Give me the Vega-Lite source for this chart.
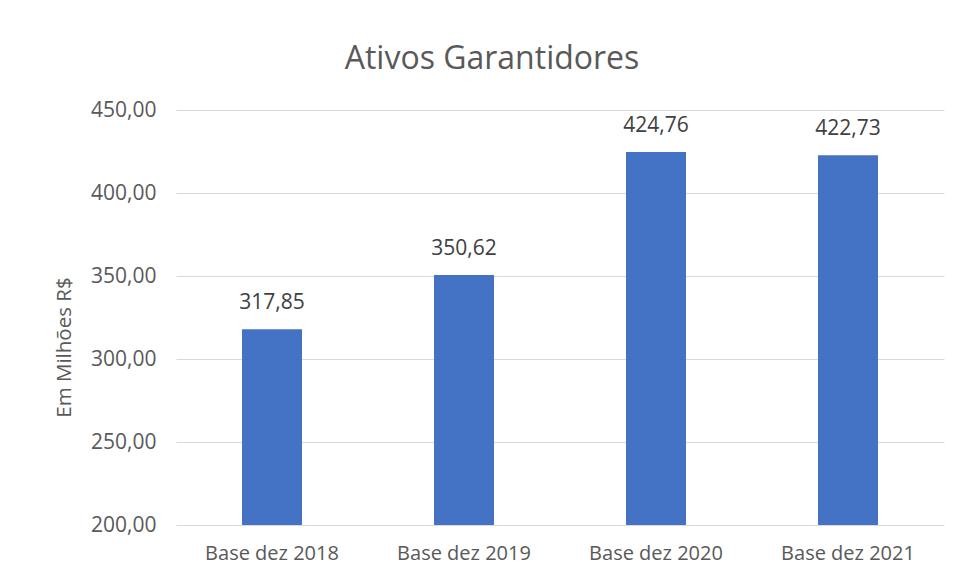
{
  "$schema": "https://vega.github.io/schema/vega-lite/v6.json",
  "width": 768,
  "height": 415,
  "autosize": "none",
  "padding": {"left": 176, "top": 110, "right": 19, "bottom": 54},
  "background": "white",
  "config": {
    "locale": {"number": {"decimal": ",", "thousands": ".", "grouping": [3], "currency": ["R$ ", ""]}},
    "font": "Open Sans",
    "view": {"stroke": null}
  },
  "title": {
    "text": "Ativos Garantidores",
    "fontSize": 32,
    "fontWeight": "normal",
    "color": "#595959",
    "anchor": "middle",
    "frame": "group",
    "dx": -68,
    "offset": 23,
    "font": "Open Sans"
  },
  "data": {
    "values": [
      {"periodo": "Base dez 2018", "valor": 317.85},
      {"periodo": "Base dez 2019", "valor": 350.62},
      {"periodo": "Base dez 2020", "valor": 424.76},
      {"periodo": "Base dez 2021", "valor": 422.73}
    ]
  },
  "encoding": {
    "x": {
      "field": "periodo",
      "type": "nominal",
      "sort": null,
      "scale": {"paddingInner": 0.6875, "paddingOuter": 0.34375},
      "axis": {
        "title": null,
        "labelAngle": 0,
        "labelFontSize": 20,
        "labelColor": "#595959",
        "labelPadding": 18,
        "ticks": false,
        "domain": false,
        "grid": false
      }
    },
    "y": {
      "field": "valor",
      "type": "quantitative",
      "scale": {"domain": [200, 450], "nice": false, "zero": false},
      "axis": {
        "title": "Em Milhões R$",
        "titleFontSize": 20.5,
        "titleFontWeight": "normal",
        "titleColor": "#595959",
        "titlePadding": 16,
        "titleY": 237,
        "values": [200, 250, 300, 350, 400, 450],
        "format": ".2f",
        "labelFontSize": 21,
        "labelColor": "#595959",
        "labelPadding": 20,
        "ticks": false,
        "domain": false,
        "gridColor": "#d9d9d9",
        "gridWidth": 1
      }
    }
  },
  "layer": [
    {"mark": {"type": "bar", "color": "#4472C4", "clip": true}},
    {
      "mark": {"type": "text", "dy": -26, "fontSize": 21, "color": "#404040", "font": "Open Sans"},
      "encoding": {"text": {"field": "valor", "type": "quantitative", "format": ".2f"}}
    }
  ]
}
